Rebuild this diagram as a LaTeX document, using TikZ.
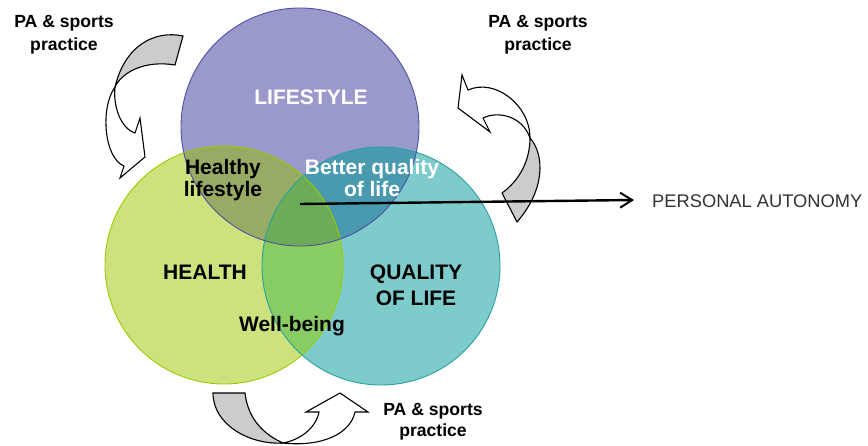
\documentclass[tikz,border=0pt]{standalone}
\usepackage{fontspec}
\setmainfont{Liberation Sans}
\usetikzlibrary{arrows.meta}
\definecolor{lsfill}{RGB}{153,153,204}
\definecolor{hfill}{RGB}{205,226,125}
\definecolor{qfill}{RGB}{126,203,204}
\definecolor{lhfill}{RGB}{152,171,100}
\definecolor{lqfill}{RGB}{74,154,175}
\definecolor{hqfill}{RGB}{136,205,100}
\definecolor{lhqfill}{RGB}{108,172,86}
\definecolor{lborder}{RGB}{80,80,160}
\definecolor{hborder}{RGB}{153,204,0}
\definecolor{qborder}{RGB}{40,160,160}
\definecolor{bandgray}{RGB}{204,204,204}
\definecolor{autotext}{RGB}{51,51,51}
\begin{document}
\begin{tikzpicture}[x=1pt,y=-1pt,
  rad/.style={radius=119pt},
  ring/.style={line width=0.9pt},
  backband/.style={fill=bandgray,draw=black,line width=1.1pt,line join=miter},
  frontband/.style={fill=white,draw=black,line width=1.1pt,line join=miter},
  palabel/.style={font=\bfseries\fontsize{17.6}{22.5}\selectfont,align=center,inner sep=0pt},
  biglabel/.style={font=\bfseries\fontsize{21}{22}\selectfont,align=center,inner sep=0pt},
  link/.style={line width=2.4pt,-{Straight Barb[length=12pt,width=15pt,line width=2pt]}}]
\useasboundingbox (0,0) rectangle (868,446);
\coordinate (cL) at (300,127);
\coordinate (cH) at (224,265);
\coordinate (cQ) at (381,266);
% circle fills
\fill[hfill] (cH) circle[rad];
\fill[qfill] (cQ) circle[rad];
\fill[lsfill] (cL) circle[rad];
\begin{scope}\clip (cL) circle[rad]; \fill[lhfill] (cH) circle[rad];\end{scope}
\begin{scope}\clip (cL) circle[rad]; \fill[lqfill] (cQ) circle[rad];\end{scope}
\begin{scope}\clip (cH) circle[rad]; \fill[hqfill] (cQ) circle[rad];\end{scope}
\begin{scope}\clip (cL) circle[rad]; \clip (cH) circle[rad]; \fill[lhqfill] (cQ) circle[rad];\end{scope}
% circle borders
\draw[ring,draw=hborder] (cH) circle[rad];
\draw[ring,draw=qborder] (cQ) circle[rad];
\draw[ring,draw=lborder] (cL) circle[rad];
% top-left curved arrow
\draw[backband] (183,36) .. controls (155,30) and (125,45) .. (115,87)
   .. controls (122,72) and (145,60) .. (175,65) -- cycle;
\draw[frontband] (115,87) .. controls (100,108) and (104,158) .. (124,166)
   -- (120,178) -- (145,157) -- (140,118) -- (135,133)
   .. controls (120,128) and (113,105) .. (115,87) -- cycle;
% top-right curved arrow
\draw[backband] (530,138) .. controls (545,155) and (545,190) .. (517,222)
   -- (502,193) .. controls (520,180) and (530,160) .. (530,138) -- cycle;
\draw[frontband] (530,138) .. controls (530,105) and (495,78) .. (468,90)
   -- (462,75) -- (458,108) -- (490,132) -- (483,118)
   .. controls (497,111) and (522,115) .. (530,138) -- cycle;
% bottom curved arrow
\draw[backband] (213,393) .. controls (213,425) and (250,445) .. (283,443)
   .. controls (265,435) and (248,420) .. (245,393) -- cycle;
\draw[frontband] (283,443) .. controls (320,447) and (350,435) .. (355,412)
   -- (368,412) -- (340,393) -- (306,412) -- (319,412)
   .. controls (316,428) and (300,440) .. (283,443) -- cycle;
% connector to personal autonomy
\coordinate (linkstart) at (300,204);
\node[font=\fontsize{18.3}{20}\selectfont,text=autotext,inner sep=0pt,anchor=base west] (auto) at (652,207.5) {PERSONAL AUTONOMY};
\coordinate (linkend) at (634,200);
\draw[link] (linkstart) -- (linkend);
% labels
\node[palabel] (paTL) at (64,34.5) {PA \& sports\\practice};
\node[palabel] (paTR) at (538,34.5) {PA \& sports\\practice};
\node[palabel,font=\bfseries\fontsize{17.6}{21}\selectfont] (paB) at (433,422) {PA \& sports\\practice};
\node[biglabel,text=white,anchor=base] (life) at (311,105) {LIFESTYLE};
\node[biglabel,anchor=base] (health) at (205,280) {HEALTH};
\node[biglabel,font=\bfseries\fontsize{21}{26}\selectfont] (qol) at (416,285.5) {QUALITY\\OF LIFE};
\node[biglabel] (hl) at (223,180.5) {Healthy\\lifestyle};
\node[biglabel,text=white] (bq) at (372,178) {Better quality\\of life};
\node[biglabel,anchor=base] (wb) at (292,332) {Well-being};
\end{tikzpicture}
\end{document}
